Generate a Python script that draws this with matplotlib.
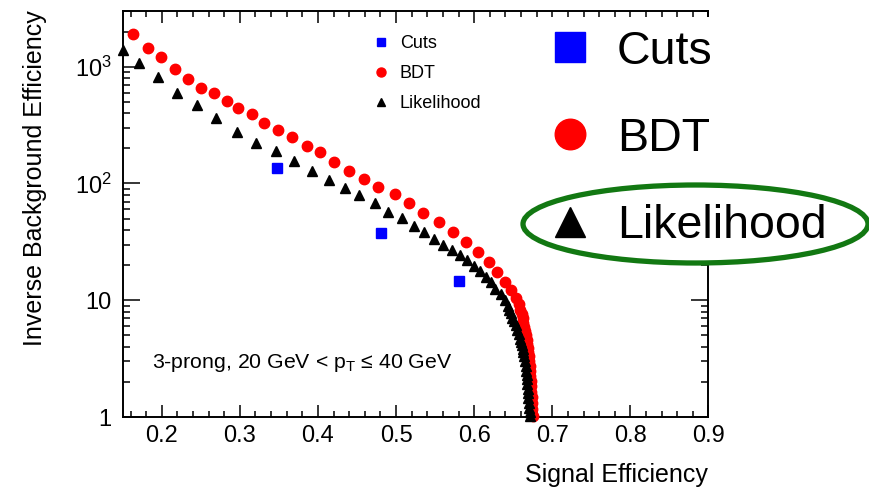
import math
import matplotlib
matplotlib.use("Agg")
import matplotlib.pyplot as plt
from matplotlib.ticker import LogLocator, MultipleLocator, FuncFormatter, NullFormatter
from matplotlib.patches import Ellipse, Rectangle
from matplotlib.lines import Line2D

plt.rcParams["font.family"] = ["Liberation Sans", "DejaVu Sans"]
plt.rcParams["mathtext.fontset"] = "custom"
plt.rcParams["mathtext.rm"] = "Liberation Sans"
plt.rcParams["mathtext.it"] = "Liberation Sans:italic"
plt.rcParams["mathtext.bf"] = "Liberation Sans:bold"

# Rectangular cut working points
cuts_eff = [0.348, 0.481, 0.581]
cuts_rej = [135, 38, 14.6]

# Boosted decision tree ROC points
bdt_eff = [0.163, 0.182, 0.199, 0.217, 0.233, 0.250, 0.267, 0.283, 0.298, 0.316,
           0.331, 0.349, 0.367, 0.386, 0.403, 0.421, 0.440, 0.459, 0.477, 0.498,
           0.516, 0.535, 0.555, 0.573, 0.590, 0.605, 0.619, 0.629, 0.640, 0.647,
           0.653, 0.657, 0.659, 0.661, 0.662, 0.663, 0.664, 0.665, 0.666, 0.667,
           0.668, 0.669, 0.6695, 0.670, 0.6705, 0.671, 0.6715, 0.672, 0.6725, 0.673,
           0.6733, 0.6736, 0.674, 0.6745, 0.675]
bdt_rej = [1900, 1440, 1210, 955, 785, 655, 595, 508, 442, 393,
           329, 286, 248, 210, 185, 153, 128, 109, 94, 81,
           68, 56, 46.5, 38.5, 31.3, 25.7, 21.1, 17.3, 14.4, 12.2,
           10.4, 9.2, 8.3, 7.6, 7.0, 6.4, 5.9, 5.4, 5.0, 4.6,
           4.2, 3.9, 3.6, 3.3, 3.0, 2.75, 2.5, 2.25, 2.05, 1.85,
           1.65, 1.48, 1.32, 1.17, 1.03]

# Likelihood ROC points
lh_eff = [0.150, 0.171, 0.195, 0.219, 0.245, 0.270, 0.296, 0.321, 0.346, 0.369,
          0.392, 0.414, 0.435, 0.453, 0.473, 0.490, 0.508, 0.523, 0.536, 0.548,
          0.560, 0.572, 0.582, 0.591, 0.600, 0.607, 0.615, 0.621, 0.627, 0.634,
          0.639, 0.643, 0.645, 0.647, 0.649, 0.651, 0.653, 0.655, 0.657, 0.659,
          0.660, 0.661, 0.662, 0.663, 0.664, 0.665, 0.666, 0.6665, 0.667, 0.6675,
          0.668, 0.6685, 0.669, 0.6695, 0.670, 0.6705, 0.671, 0.6712]
lh_rej = [1390, 1080, 810, 598, 469, 365, 274, 223, 189, 156,
          128, 108, 91, 79.5, 67.6, 56.6, 50.3, 43.4, 38.6, 33.2,
          29.7, 26.9, 24.4, 22.1, 19.8, 17.8, 15.9, 14.2, 12.6, 11.2,
          10.0, 8.9, 8.3, 7.7, 7.1, 6.6, 6.1, 5.6, 5.1, 4.7,
          4.4, 4.1, 3.85, 3.6, 3.3, 3.0, 2.75, 2.5, 2.3, 2.1,
          1.92, 1.75, 1.6, 1.46, 1.33, 1.2, 1.1, 1.02]

series_labels = ["Cuts", "BDT", "Likelihood"]
x_ticks = [0.2, 0.3, 0.4, 0.5, 0.6, 0.7, 0.8, 0.9]

W, H = 870, 492
fig = plt.figure(figsize=(W / 100, H / 100), dpi=100)
ax = fig.add_axes([122.7 / W, 1 - 417 / H, (708.5 - 122.7) / W, (417 - 11) / H])

ax.plot(bdt_eff, bdt_rej, ls="none", marker="o", ms=7.5, mfc="#ff0000", mec="#ff0000",
        clip_on=False, zorder=3)
ax.plot(lh_eff, lh_rej, ls="none", marker="^", ms=6.5, mfc="black", mec="black",
        clip_on=False, zorder=4)
ax.plot(cuts_eff, cuts_rej, ls="none", marker="s", ms=7.2, mfc="#0000ff", mec="#0000ff",
        clip_on=False, zorder=5)

ax.set_yscale("log")
ax.set_xlim(0.15, 0.9)
ax.set_ylim(1, 3000)
ax.set_xticks(x_ticks)
ax.xaxis.set_major_formatter(FuncFormatter(lambda v, p: f"{v:.1f}"))
ax.xaxis.set_minor_locator(MultipleLocator(0.02))
ax.yaxis.set_major_locator(LogLocator(base=10, numticks=10))
ax.yaxis.set_minor_locator(LogLocator(base=10, subs=range(2, 10), numticks=20))
ax.yaxis.set_minor_formatter(NullFormatter())


def ylab(v, pos):
    if v < 5:
        return "1"
    if v < 50:
        return "10"
    return r"$10^{%d}$" % round(math.log10(v))


ax.yaxis.set_major_formatter(FuncFormatter(ylab))

for s in ax.spines.values():
    s.set_linewidth(1.4)
ax.tick_params(which="both", direction="in", top=True, right=True, width=1.1,
               labelsize=17, colors="black")
ax.tick_params(axis="x", which="major", length=8.6, pad=6)
ax.tick_params(axis="x", which="minor", length=4.3)
ax.tick_params(axis="y", which="major", length=12, pad=8)
ax.tick_params(axis="y", which="minor", length=5)

fig.text(708 / W, 1 - 475 / H, "Signal Efficiency", ha="right", va="center", fontsize=18)
fig.text(35 / W, 1 - 178 / H, "Inverse Background Efficiency", ha="center", va="center",
         rotation=90, fontsize=18)

ax.text(152 / W, 1 - 363 / H, r"3-prong, 20 GeV < p$_{\mathrm{T}}$ ≤ 40 GeV",
        transform=fig.transFigure, ha="left", va="center", fontsize=15.3)

# Small in-frame legend
small_handles = [
    Line2D([], [], ls="none", marker="s", ms=6, mfc="#0000ff", mec="#0000ff"),
    Line2D([], [], ls="none", marker="o", ms=6.5, mfc="#ff0000", mec="#ff0000"),
    Line2D([], [], ls="none", marker="^", ms=6, mfc="black", mec="black"),
]
fig.legend(small_handles, series_labels, loc="upper left",
           bbox_to_anchor=(376.5 / W, 1 - 35 / H), frameon=False, fontsize=13,
           handlelength=0.5, handletextpad=0.8, labelspacing=0.72, borderpad=0,
           borderaxespad=0)

# Large annotation legend on a white panel
fig.patches.append(Rectangle((540 / W, 1 - 262 / H), (W - 540) / W, (262 - 17) / H,
                             transform=fig.transFigure, facecolor="white",
                             edgecolor="none", zorder=2))
big_handles = [
    Line2D([], [], ls="none", marker="s", ms=22, mfc="#0000ff", mec="#0000ff"),
    Line2D([], [], ls="none", marker="o", ms=22, mfc="#ff0000", mec="#ff0000"),
    Line2D([], [], ls="none", marker="^", ms=21, mfc="black", mec="black"),
]
leg = fig.legend(big_handles, series_labels, loc="upper left",
                 bbox_to_anchor=(556 / W, 1 - 29.5 / H), frameon=False, fontsize=33.5,
                 handlelength=0.6, handletextpad=0.71, labelspacing=0.93, borderpad=0,
                 borderaxespad=0)
leg.set_zorder(5)

fig.patches.append(Ellipse((695.5 / W, 1 - 224 / H), 345 / W, 78 / H,
                           transform=fig.transFigure, facecolor="none",
                           edgecolor="#127812", linewidth=3.8, zorder=6))

fig.savefig("out.png", dpi=100)
